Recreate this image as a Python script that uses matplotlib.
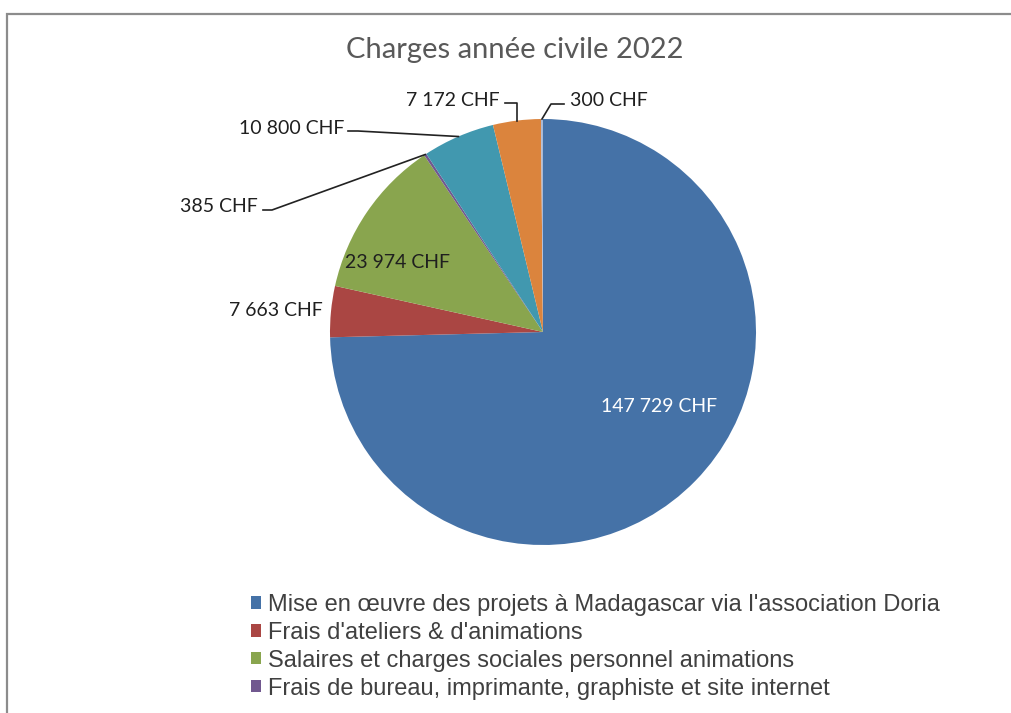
import numpy as np
import matplotlib
matplotlib.use("Agg")
import matplotlib.pyplot as plt
from matplotlib.patches import Rectangle

# data
categories = [
    "Mise en œuvre des projets à Madagascar via l'association Doria",
    "Frais d'ateliers & d'animations",
    "Salaires et charges sociales personnel animations",
    "Frais de bureau, imprimante, graphiste et site internet",
    "Autres frais",
    "Frais divers",
    "Frais bancaires",
]
values = [147729, 7663, 23974, 385, 10800, 7172, 300]
colors = ["#4572a7", "#aa4643", "#89a54e", "#71588f", "#4198af", "#db843d", "#a9b9d6"]
n_legend = 4  # only the first entries are visible in the picture

def chf(v):
    return "{:,}".format(v).replace(",", " ") + " CHF"

W, H = 1012, 713
fig = plt.figure(figsize=(W / 100, H / 100), dpi=100)
fig.patch.set_facecolor("white")

# outer chart frame (runs off the right and bottom edge)
fig.add_artist(Rectangle((7 / W, -0.1), 1.2, (H - 14) / H + 0.1, transform=fig.transFigure,
                         fill=False, edgecolor="#8c8c8c", linewidth=1.6))

# pie centre at (543, 332) px, radius 213 px
cx, cy, r = 543, 332, 213
ax = fig.add_axes([(cx - r) / W, (H - cy - r) / H, 2 * r / W, 2 * r / H])
wedges, _ = ax.pie(values, colors=colors, startangle=90, counterclock=False, radius=1,
                   wedgeprops=dict(linewidth=0))
ax.set_xlim(-1, 1)
ax.set_ylim(-1, 1)
ax.set_aspect("equal")
ax.axis("off")

def px(x, y):
    return ((x - cx) / r, (cy - y) / r)

# anchor point on the circumference for each slice
total = float(sum(values))
cum = np.cumsum(values) - np.array(values) / 2.0
mid = np.deg2rad(90 - 360 * cum / total)
anchors = [(np.cos(a), np.sin(a)) for a in mid]

fnt = "Lato"
lab_kw = dict(fontsize=14, family=fnt, color="#1f1f1f")

# inside labels
ax.text(*px(659, 406), chf(values[0]), ha="center", va="center", color="white",
        fontsize=14, family=fnt)
ax.text(*px(398, 263), chf(values[2]), ha="center", va="center", **lab_kw)
ax.text(*px(323, 311), chf(values[1]), ha="right", va="center", clip_on=False, **lab_kw)

line_kw = dict(color="#222222", lw=1.2, clip_on=False)

# 385 CHF
ax.text(*px(258, 206), chf(values[3]), ha="right", va="center", clip_on=False, **lab_kw)
p0, p1 = px(263, 210), px(272, 210)
ax.plot([p0[0], p1[0], anchors[3][0]], [p0[1], p1[1], anchors[3][1]], **line_kw)

# 10 800 CHF
ax.text(*px(344, 128), chf(values[4]), ha="right", va="center", clip_on=False, **lab_kw)
p0, p1 = px(348, 131), px(358, 131)
ax.plot([p0[0], p1[0], anchors[4][0]], [p0[1], p1[1], anchors[4][1]], **line_kw)

# 7 172 CHF
ax.text(*px(500, 100), chf(values[5]), ha="right", va="center", clip_on=False, **lab_kw)
p0 = px(505, 103)
ax.plot([p0[0], anchors[5][0], anchors[5][0]], [p0[1], p0[1], anchors[5][1]], **line_kw)

# 300 CHF
ax.text(*px(570, 100), chf(values[6]), ha="left", va="center", clip_on=False, **lab_kw)
p0, p1 = px(564, 104), px(551, 104)
ax.plot([p0[0], p1[0], anchors[6][0]], [p0[1], p1[1], anchors[6][1]], **line_kw)

fig.text(515 / W, 1 - 50 / H, "Charges année civile 2022", ha="center", va="center",
         fontsize=21, family=fnt, color="#595959")

leg = fig.legend(wedges[:n_legend], categories[:n_legend], loc="upper left",
                 bbox_to_anchor=(251 / W, 1 - 594 / H), frameon=False,
                 prop=dict(family="Liberation Sans", size=17), labelspacing=0.25,
                 handlelength=0.42, handleheight=0.42, handletextpad=0.3,
                 borderaxespad=0, borderpad=0)
for t in leg.get_texts():
    t.set_color("#404040")

fig.savefig("out.png", dpi=100)
